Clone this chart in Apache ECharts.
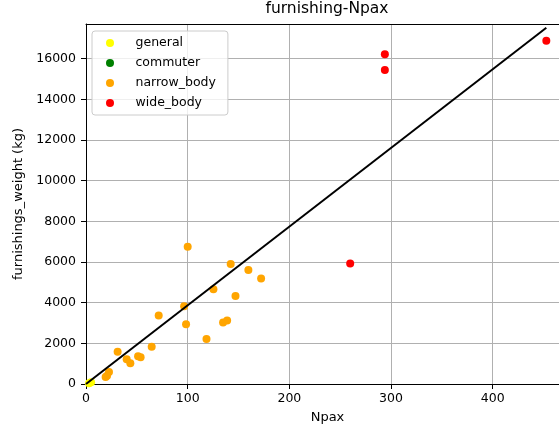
<!DOCTYPE html>
<html>
<head>
<meta charset="utf-8">
<script src="https://cdn.jsdelivr.net/npm/echarts@6/dist/echarts.min.js"></script>
<style>html,body{margin:0;padding:0;background:#fff}#c{width:559px;height:432px}</style>
</head>
<body>
<div id="c"></div>
<script>
// ---- data ----
const generalNpax = [3, 5];
const generalWeight = [40, 90];
const commuterNpax = [];
const commuterWeight = [];
const narrowNpax = [100, 142.3, 159.7, 172.2, 125.3, 147, 96.5, 71.5, 98.4, 134.8, 138.8, 118.5, 64.6, 31.1, 40, 43.6, 51.2, 53.7, 22.6, 20.7, 19.3];
const narrowWeight = [6744, 5906, 5611, 5187, 4660, 4330, 3823, 3364, 2936, 3020, 3118, 2212, 1837, 1591, 1212, 1015, 1360, 1310, 586, 409, 340];
const wideNpax = [293.9, 293.9, 452.7, 259.8];
const wideWeight = [16207, 15433, 16882, 5926];
const fitNpax = [0, 452.7];
const fitWeight = [0, 17517];
const xTicks = [0, 100, 200, 300, 400];
const yTicks = [0, 2000, 4000, 6000, 8000, 10000, 12000, 14000, 16000];

const zip = (a, b) => a.map((v, i) => [v, b[i]]);
const FONT = 'DejaVu Sans';

const chart = echarts.init(document.getElementById('c'), null, {renderer: 'canvas'});
const scatter = (name, xs, ys, color) => ({
  name, type: 'scatter', data: zip(xs, ys), symbol: 'circle', symbolSize: 8,
  itemStyle: {color, opacity: 1}, z: 3, emphasis: {disabled: true}
});
chart.setOption({
  animation: false,
  backgroundColor: '#fff',
  textStyle: {fontFamily: FONT},
  title: {
    text: 'furnishing-Npax', left: 327, top: 1, textAlign: 'center', padding: 0,
    textStyle: {fontFamily: FONT, fontSize: 15.5, fontWeight: 'normal', color: '#000'}
  },
  grid: {left: 86, right: -10, top: 24, bottom: 48, containLabel: false, outerBoundsMode: 'none'},
  legend: {
    orient: 'vertical', left: 92, top: 31,
    padding: [5, 12, 5, 14], itemGap: 6, itemWidth: 37, itemHeight: 8,
    icon: 'circle',
    backgroundColor: 'rgba(255,255,255,0.8)', borderColor: '#cccccc', borderWidth: 1, borderRadius: 3,
    textStyle: {fontFamily: FONT, fontSize: 12.5, color: '#000', lineHeight: 14, padding: [0, 0, 0, 2]},
    data: ['general', 'commuter', 'narrow_body', 'wide_body']
  },
  xAxis: [{
    type: 'value', min: 0, max: 475, interval: 100,
    name: 'Npax', nameLocation: 'middle', nameGap: 27,
    nameTextStyle: {fontFamily: FONT, fontSize: 13, color: '#000'},
    axisLine: {show: true, onZero: false, lineStyle: {color: '#000', width: 1}},
    axisTick: {show: true, inside: false, length: 5, lineStyle: {color: '#000'}},
    axisLabel: {fontFamily: FONT, fontSize: 12.5, color: '#000', margin: 8,
      showMaxLabel: false,
      formatter: v => xTicks.includes(v) ? String(v) : ''},
    splitLine: {show: true, lineStyle: {color: '#b0b0b0', width: 1}}
  }, {
    type: 'value', position: 'top', min: 0, max: 475,
    axisLine: {show: true, onZero: false, lineStyle: {color: '#000', width: 1}},
    axisTick: {show: false}, axisLabel: {show: false}, splitLine: {show: false}
  }],
  yAxis: {
    type: 'value', min: 0, max: 17700, interval: 2000,
    name: 'furnishings_weight (kg)', nameLocation: 'middle', nameGap: 60,
    nameTextStyle: {fontFamily: FONT, fontSize: 13, color: '#000'},
    axisLine: {show: true, onZero: false, lineStyle: {color: '#000', width: 1}},
    axisTick: {show: true, inside: false, length: 5, lineStyle: {color: '#000'}},
    axisLabel: {fontFamily: FONT, fontSize: 12.5, color: '#000', margin: 10,
      showMaxLabel: false,
      formatter: v => yTicks.includes(v) ? String(v) : ''},
    splitLine: {show: true, lineStyle: {color: '#b0b0b0', width: 1}}
  },
  series: [
    scatter('general', generalNpax, generalWeight, '#ffff00'),
    scatter('commuter', commuterNpax, commuterWeight, '#008000'),
    scatter('narrow_body', narrowNpax, narrowWeight, '#ffa500'),
    scatter('wide_body', wideNpax, wideWeight, '#ff0000'),
    {
      name: 'fit', type: 'line', data: zip(fitNpax, fitWeight), symbol: 'none',
      lineStyle: {color: '#000', width: 2}, z: 4, emphasis: {disabled: true}
    }
  ]
});
</script>
</body>
</html>
